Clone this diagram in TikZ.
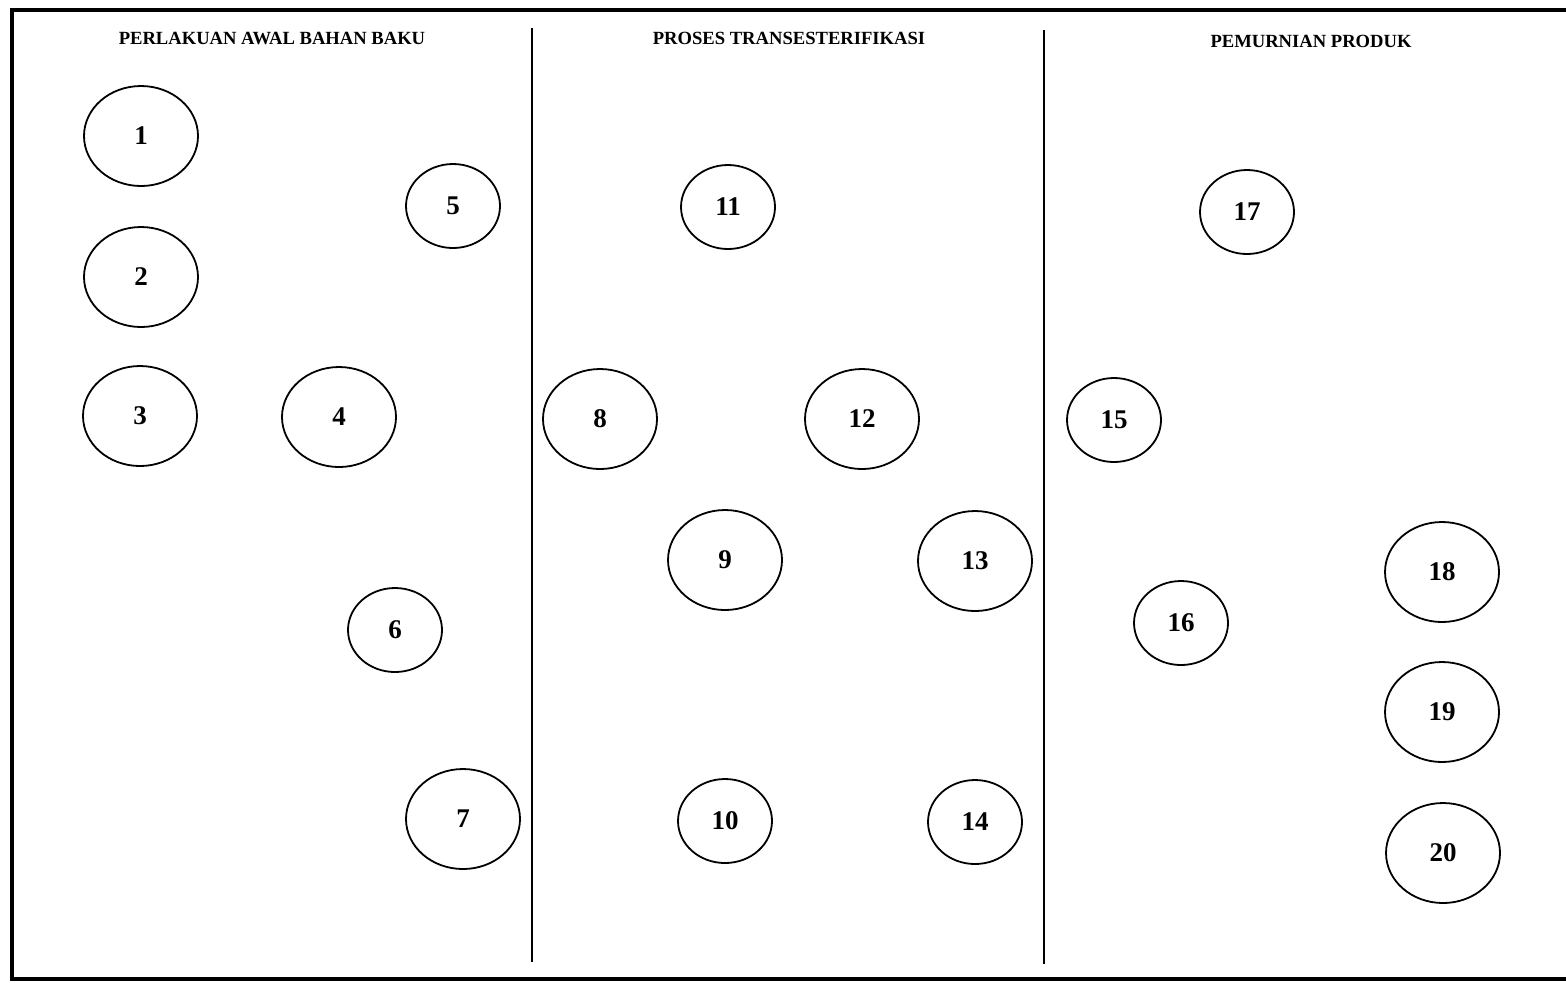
\documentclass[tikz,border=0pt]{standalone}
\usepackage{fontspec}
\setmainfont{Liberation Serif}
\usetikzlibrary{shapes.geometric}
\begin{document}
\begin{tikzpicture}[x=0.5pt,y=-0.5pt,
  bigell/.style={ellipse, draw, line width=0.9pt, inner sep=0pt, minimum width=57pt, minimum height=50pt, font=\bfseries\fontsize{13.5}{14}\selectfont},
  smallell/.style={ellipse, draw, line width=0.9pt, inner sep=0pt, minimum width=47pt, minimum height=42pt, font=\bfseries\fontsize{13.5}{14}\selectfont},
  header/.style={font=\bfseries\fontsize{9.3}{11}\selectfont, inner sep=0pt},
  frameline/.style={line width=2pt},
  divider/.style={line width=1.4pt}]
\useasboundingbox (0,0) rectangle (1566,982);
% frame
\coordinate (tr) at (1566,10);
\coordinate (tl) at (12,10);
\coordinate (bl) at (12,979);
\coordinate (br) at (1566,979);
\draw[frameline] (tr) -- (tl) -- (bl) -- (br);
% dividers
\coordinate (d1t) at (532,28);
\coordinate (d1b) at (532,962);
\coordinate (d2t) at (1044,30);
\coordinate (d2b) at (1044,964);
\draw[divider] (d1t) -- (d1b);
\draw[divider] (d2t) -- (d2b);
% headers
\node[header] (h1) at (272,38) {PERLAKUAN AWAL BAHAN BAKU};
\node[header] (h2) at (789,38) {PROSES TRANSESTERIFIKASI};
\node[header] (h3) at (1311,41) {PEMURNIAN PRODUK};
% column 1
\node[bigell] (n1) at (141,136) {1};
\node[bigell] (n2) at (141,277) {2};
\node[bigell] (n3) at (140,416) {3};
\node[bigell] (n4) at (339,417) {4};
\node[smallell] (n5) at (453,206) {5};
\node[smallell] (n6) at (395,630) {6};
\node[bigell] (n7) at (463,819) {7};
% column 2
\node[bigell] (n8) at (600,419) {8};
\node[bigell] (n9) at (725,560) {9};
\node[smallell] (n10) at (725,821) {10};
\node[smallell] (n11) at (728,207) {11};
\node[bigell] (n12) at (862,419) {12};
\node[bigell] (n13) at (975,561) {13};
\node[smallell] (n14) at (975,822) {14};
% column 3
\node[smallell] (n15) at (1114,420) {15};
\node[smallell] (n16) at (1181,623) {16};
\node[smallell] (n17) at (1247,212) {17};
\node[bigell] (n18) at (1442,572) {18};
\node[bigell] (n19) at (1442,712) {19};
\node[bigell] (n20) at (1443,853) {20};
\end{tikzpicture}
\end{document}
